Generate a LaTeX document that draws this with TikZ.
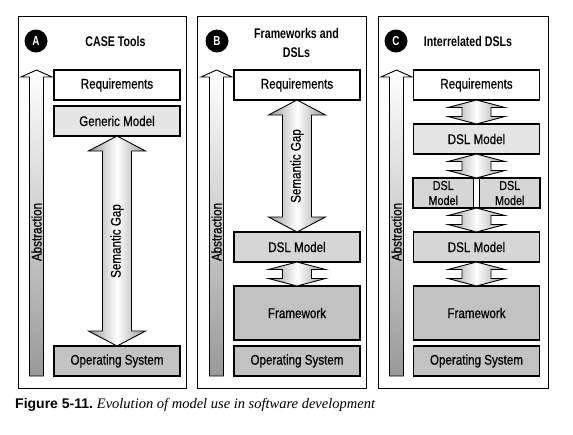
\documentclass[tikz,border=0pt]{standalone}
\usepackage{fontspec}
\setsansfont{Liberation Sans}
\newfontfamily\boxfont{Liberation Sans}[FakeStretch=0.83,FakeBold=0.6]
\newfontfamily\headfont{Liberation Sans}[FakeStretch=0.76]
\newfontfamily\capserif{Liberation Serif}
\usepackage{tikz}
\usetikzlibrary{calc,positioning}
\definecolor{lightbox}{gray}{0.90}
\definecolor{midbox}{gray}{0.84}
\definecolor{darkbox}{gray}{0.76}
\definecolor{arrowgray}{gray}{0.60}

% fat double arrow from the bottom of one box to the top of the next
\newcommand{\gaparrow}[3]{%
  \path[gapfill] let \p1=(#1.south), \p2=(#2.north) in
    (\x1,\y1) -- (\x1+28.5pt,\y1-#3) -- (\x1+14.5pt,\y1-#3) -- (\x1+14.5pt,\y2+#3)
    -- (\x1+28.5pt,\y2+#3) -- (\x1,\y2) -- (\x1-28.5pt,\y2+#3) -- (\x1-14.5pt,\y2+#3)
    -- (\x1-14.5pt,\y1-#3) -- (\x1-28.5pt,\y1-#3) -- cycle;}

\begin{document}
\begin{tikzpicture}[x=1pt,y=-1pt,
  panel/.style={draw,line width=0.9pt},
  layer/.style={draw,line width=1.1pt,minimum width=126pt,minimum height=30pt,
                inner sep=0pt,outer sep=0pt,align=center,
                font=\boxfont\fontsize{14}{15}\selectfont},
  badge/.style={circle,fill=black,text=white,minimum size=23pt,inner sep=0pt,
                font=\headfont\bfseries\fontsize{13}{14}\selectfont},
  heading/.style={align=center,font=\headfont\bfseries\fontsize{14}{19}\selectfont},
  gapfill/.style={draw,line width=0.9pt,left color=arrowgray,right color=arrowgray,
                  middle color=white},
  sidelabel/.style={rotate=90,inner sep=0pt,font=\boxfont\fontsize{14}{15}\selectfont}
]
\useasboundingbox (0,0) rectangle (573,434);

\draw[panel] (18,16) rectangle (186,388);
\draw[panel] (197,16) rectangle (366,388);
\draw[panel] (378,16) rectangle (548,388);

\node[badge] (badgeA) at (36,41) {A};
\node[badge] (badgeB) at (217,41) {B};
\node[badge] (badgeC) at (396,41) {C};
\node[heading] (titleA) at (115.5,41) {CASE Tools};
\node[heading] (titleB) at (296.5,42.5) {Frameworks and\\DSLs};
\node[heading] (titleC) at (468,41) {Interrelated DSLs};

% abstraction arrows
\foreach \ax/\nm in {36.5/A,216.5/B,396.5/C}{
  \shade[draw,line width=0.9pt,top color=white,bottom color=arrowgray]
    (\ax-7,376) -- (\ax-7,77) -- (\ax-15.5,77) -- (\ax,70) -- (\ax+15.5,77)
    -- (\ax+7,77) -- (\ax+7,376) -- cycle;
  \node[sidelabel] (abs\nm) at (\ax,232) {Abstraction};
}

% A: CASE tools
\node[layer,fill=white] (reqA) at (117,85) {Requirements};
\node[layer,fill=lightbox,below=6pt of reqA] (genA) {Generic Model};
\node[layer,fill=darkbox] (osA) at (117,361) {Operating System};
\gaparrow{genA}{osA}{15pt}
\node[sidelabel] (gapA) at ($(genA.south)!0.5!(osA.north)$) {Semantic Gap};

% B: frameworks and DSLs
\node[layer,fill=white] (reqB) at (297,85) {Requirements};
\node[layer,fill=midbox] (dslB) at (297,247) {DSL Model};
\node[layer,fill=darkbox,minimum height=54pt,below=24pt of dslB] (fwB) {Framework};
\node[layer,fill=darkbox,below=6pt of fwB] (osB) {Operating System};
\gaparrow{reqB}{dslB}{15pt}
\gaparrow{dslB}{fwB}{7.5pt}
\node[sidelabel] (gapB) at ($(reqB.south)!0.5!(dslB.north)$) {Semantic Gap};

% C: interrelated DSLs
\node[layer,fill=white] (reqC) at (476.5,85) {Requirements};
\node[layer,fill=lightbox,below=24pt of reqC] (dslC) {DSL Model};
\node[layer,fill=white,minimum width=6pt,below=24pt of dslC] (link) {};
\node[layer,fill=midbox,minimum width=60.5pt,left=0pt of link,
      font=\boxfont\fontsize{13}{15}\selectfont] (subL) {DSL\\Model};
\node[layer,fill=midbox,minimum width=60.5pt,right=0pt of link,
      font=\boxfont\fontsize{13}{15}\selectfont] (subR) {DSL\\Model};
\node[layer,fill=midbox,below=24pt of link,minimum width=126pt] (dslD) {DSL Model};
\node[layer,fill=darkbox,minimum height=54pt,below=24pt of dslD] (fwC) {Framework};
\node[layer,fill=darkbox,below=6pt of fwC] (osC) {Operating System};
\gaparrow{reqC}{dslC}{7.5pt}
\gaparrow{dslC}{link}{7.5pt}
\gaparrow{link}{dslD}{7.5pt}
\gaparrow{dslD}{fwC}{7.5pt}

\node[anchor=base west,inner sep=0pt] (caption) at (15,408)
  {\sffamily\bfseries\fontsize{14}{16}\selectfont Figure 5-11.\ %
   \capserif\mdseries\itshape\fontsize{14.5}{16}\selectfont Evolution of model use in software development};
\end{tikzpicture}
\end{document}
